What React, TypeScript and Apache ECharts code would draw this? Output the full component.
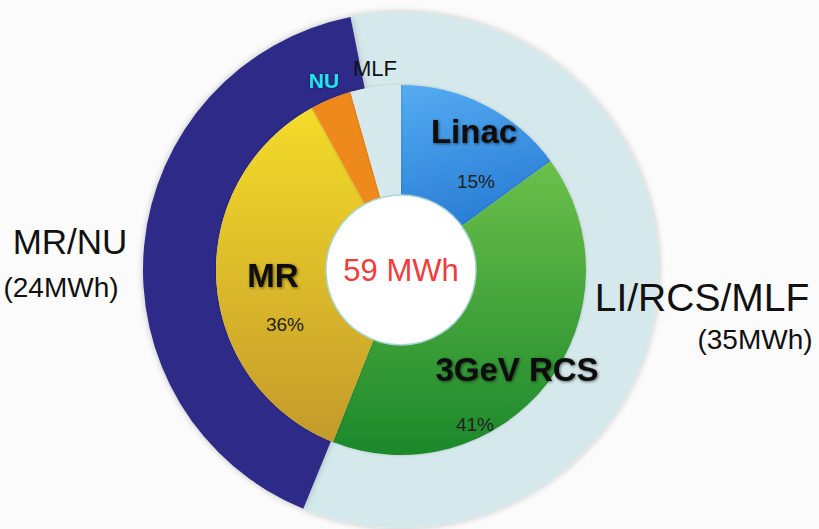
import React, { useEffect, useRef } from "react";
import * as echarts from "echarts";

const outerNames = ["LI/RCS/MLF", "MR/NU"];
const outerValues = [35, 24];
const innerNames = ["Linac", "3GeV RCS", "MR", "NU", "MLF"];
const innerValues = [15, 41, 36, 3.6, 4.4];
const innerPercentLabels = ["15%", "41%", "36%"];
const totalLabel = "59 MWh";

const FONT = "'Liberation Sans', Arial, Helvetica, sans-serif";

function lg(c1: string, c2: string, x2 = 0, y2 = 1) {
  return new echarts.graphic.LinearGradient(0, 0, x2, y2, [
    { offset: 0, color: c1 },
    { offset: 1, color: c2 },
  ]);
}

export default function App() {
  const ref = useRef<HTMLDivElement>(null);
  useEffect(() => {
    if (!ref.current) return;
    const chart = echarts.init(ref.current, null, { renderer: "svg" });
    const cx = 401;
    const cy = 270;

    const outerColors = ["#d5e9ec", "#2f2b87"];
    const innerColors = [
      lg("#55acf2", "#2a7fd6", 0.3, 1),
      lg("#6cc04a", "#1b882b", 0, 1),
      lg("#f4dc2c", "#c49a2a", 0, 1),
      "#ee8a1c",
      "#d6e9ec",
    ];

    const boldShadow = {
      textShadowColor: "rgba(0,0,0,0.55)",
      textShadowBlur: 3,
      textShadowOffsetX: 1,
      textShadowOffsetY: 1,
    };

    const txt = (
      text: string,
      x: number,
      y: number,
      size: number,
      opts: any = {}
    ) => ({
      type: "text",
      x,
      y,
      z: 100,
      silent: true,
      style: {
        text,
        x: 0,
        y: 0,
        align: "center",
        verticalAlign: "middle",
        fontFamily: FONT,
        fontSize: size,
        fill: "#111",
        ...opts,
      },
    });

    chart.setOption({
      animation: false,
      backgroundColor: "#fbfbfb",
      series: [
        {
          type: "pie",
          name: "outer",
          center: [cx, cy],
          radius: [185, 258],
          startAngle: 101.3,
          silent: true,
          label: { show: false },
          labelLine: { show: false },
          itemStyle: {
            shadowBlur: 6,
            shadowColor: "rgba(0,0,0,0.25)",
          },
          data: outerNames.map((n, i) => ({
            name: n,
            value: outerValues[i],
            itemStyle: { color: outerColors[i] },
          })),
        },
        {
          type: "pie",
          name: "inner",
          center: [cx, cy],
          radius: [75, 185],
          startAngle: 90,
          silent: true,
          label: { show: false },
          labelLine: { show: false },
          itemStyle: {
            shadowBlur: 3,
            shadowColor: "rgba(0,0,0,0.2)",
          },
          data: innerNames.map((n, i) => ({
            name: n,
            value: innerValues[i],
            itemStyle: { color: innerColors[i] },
          })),
        },
        {
          type: "pie",
          name: "center",
          center: [cx, cy],
          radius: [0, 75],
          silent: true,
          labelLine: { show: false },
          label: {
            show: true,
            position: "center",
            formatter: totalLabel,
            fontFamily: FONT,
            fontSize: 31,
            color: "#f23b3b",
          },
          itemStyle: {
            color: "#ffffff",
            borderColor: "#a6d6d8",
            borderWidth: 1.5,
          },
          data: [{ name: "total", value: 1 }],
        },
      ],
      graphic: [
        txt(innerNames[0], 474, 131, 33, { fontWeight: "bold", ...boldShadow }),
        txt(innerPercentLabels[0], 476, 181, 19, { fill: "#222" }),
        txt(innerNames[1], 517, 369, 33, { fontWeight: "bold", ...boldShadow }),
        txt(innerPercentLabels[1], 475, 424, 19, { fill: "#222" }),
        txt(innerNames[2], 273, 275, 33, { fontWeight: "bold", ...boldShadow }),
        txt(innerPercentLabels[2], 285, 324, 19, { fill: "#222" }),
        txt(innerNames[3], 324, 80, 21, {
          fontWeight: "bold",
          fill: "#1fe6ef",
          textShadowColor: "rgba(0,0,0,0.6)",
          textShadowBlur: 2,
        }),
        txt(innerNames[4], 375, 68, 22, { fill: "#111" }),
        txt(outerNames[1], 70, 241, 35),
        txt("(" + outerValues[1] + "MWh)", 61, 287, 28),
        txt(outerNames[0], 702, 297, 39),
        txt("(" + outerValues[0] + "MWh)", 755, 339, 28),
      ],
    });
    return () => chart.dispose();
  }, []);
  return (
    <div
      ref={ref}
      style={{ position: "fixed", left: 0, top: 0, width: 819, height: 529 }}
    />
  );
}
